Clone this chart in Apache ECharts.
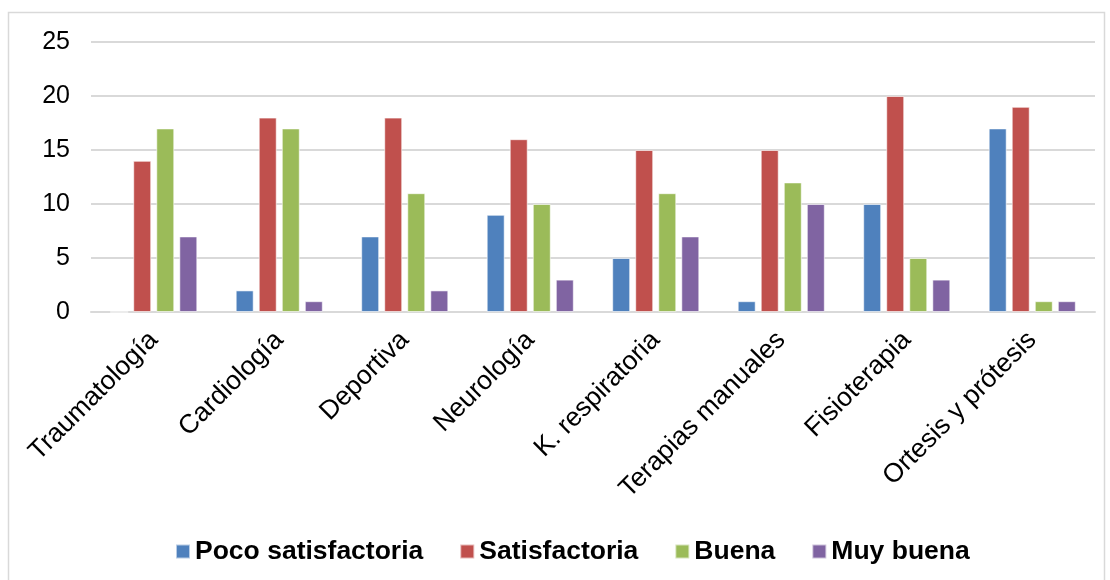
<!DOCTYPE html>
<html><head><meta charset="utf-8">
<script src="https://cdn.jsdelivr.net/npm/echarts@6/dist/echarts.min.js"></script>
<style>html,body{margin:0;padding:0;background:#fff}#c{width:1110px;height:580px}</style>
</head><body><div id="c"></div>
<script>
const categories = ['Traumatología','Cardiología','Deportiva','Neurología','K. respiratoria','Terapias manuales','Fisioterapia','Ortesis y prótesis'];
const seriesNames = ['Poco satisfactoria','Satisfactoria','Buena','Muy buena'];
const pocoSatisfactoria = [0,2,7,9,5,1,10,17];
const satisfactoria = [14,18,18,16,15,15,20,19];
const buena = [17,17,11,10,11,12,5,1];
const muyBuena = [7,1,2,3,7,10,3,1];
const colors = ['#4F81BD','#C0504D','#9BBB59','#8064A2'];
const values = [pocoSatisfactoria, satisfactoria, buena, muyBuena];

const chart = echarts.init(document.getElementById('c'));
chart.setOption({
  animation:false,
  textStyle:{fontFamily:'Liberation Sans, Arial, sans-serif'},
  graphic:[{type:'rect',shape:{x:8.5,y:12.5,width:1096,height:570},style:{fill:'none',stroke:'#d9d9d9',lineWidth:1.5},silent:true}],
  grid:{left:91,right:15,top:42,bottom:268,containLabel:false},
  legend:{top:533,left:170,itemWidth:14,itemHeight:14,itemGap:36,icon:'rect',
    textStyle:{fontSize:26.5,fontWeight:'bold',color:'#000',fontFamily:'Liberation Sans, Arial, sans-serif'},
    data:seriesNames},
  xAxis:{type:'category',data:categories,
    axisLine:{show:true,lineStyle:{color:'#d9d9d9',width:2}},axisTick:{show:false},
    axisLabel:{rotate:45,fontSize:26.5,color:'#000',margin:24,interval:0}},
  yAxis:{type:'value',min:0,max:25,interval:5,
    axisLine:{show:false},axisTick:{show:false},
    splitLine:{lineStyle:{color:'#d9d9d9',width:2}},
    axisLabel:{fontSize:25,color:'#000',margin:21}},
  series: seriesNames.map((n,i)=>({
    name:n,type:'bar',data:values[i],barWidth:18,barGap:'28%',
    itemStyle:{color:colors[i],borderColor:'rgba(255,255,255,0.6)',borderWidth:1}
  }))
});
</script></body></html>
